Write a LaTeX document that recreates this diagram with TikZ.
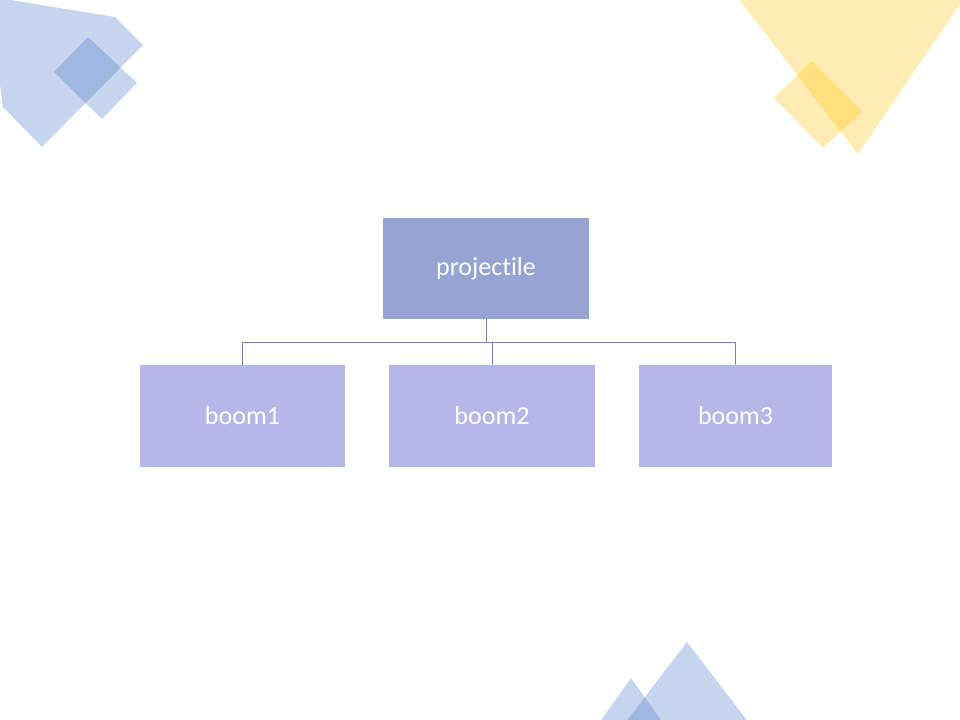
\documentclass[tikz,border=0pt]{standalone}
\usepackage{fontspec}
\setmainfont{Carlito}[Ligatures=NoCommon]
\definecolor{slideblue}{HTML}{4472C4}
\definecolor{slidegold}{HTML}{FFC000}
\definecolor{rootfill}{HTML}{95A4D3}
\definecolor{leaffill}{HTML}{B7B6E9}
\definecolor{linkcol}{HTML}{7385BF}

\begin{document}
\begin{tikzpicture}[x=0.75pt,y=-0.75pt]
                        \tikzstyle{bluepatch}=[fill=slideblue,fill opacity=0.3]
                        \tikzstyle{goldpatch}=[fill=slidegold,fill opacity=0.3]
                        \tikzstyle{box}=[inner sep=0pt,minimum height=76.5pt,text=white,font=\fontsize{19.5}{23}\selectfont]
                        \tikzstyle{rootbox}=[box,fill=rootfill,minimum width=154.5pt,minimum height=75.75pt]
                        \tikzstyle{leafbox}=[box,fill=leaffill,minimum width=153.75pt]
                        \tikzstyle{level 1}=[sibling distance=184.9pt,level distance=110.6pt]
                        \useasboundingbox (0,0) rectangle (960,720);
                        \clip (0,0) rectangle (960,720);
                        \fill[bluepatch] (-2,-2) -- (115,17) -- (143,45) -- (42,147) -- (3,107) -- (-2,70) -- cycle;
                        \fill[bluepatch] (88,37) -- (137,83) -- (102,119) -- (54,72) -- cycle;
                        \fill[goldpatch] (738,-2) -- (964,-2) -- (858,154) -- cycle;
                        \fill[goldpatch] (812,61) -- (862,112) -- (823,148) -- (774,98) -- cycle;
                        \fill[bluepatch] (687,642) -- (749,723) -- (625,723) -- cycle;
                        \fill[bluepatch] (631,678) -- (663,723) -- (599,723) -- cycle;
                        \node[rootbox] (proj) at (486,268.5) {projectile}
                            [edge from parent/.style={draw=linkcol,line width=0.75pt},
                             edge from parent path={(\tikzparentnode.south) -- ++(0,-17.25pt) -| (\tikzchildnode.north)}]
                            child[xshift=2.25pt] {node[leafbox] (boom1) {boom1}
                            }
                            child[xshift=4.5pt] {node[leafbox,minimum width=154.5pt] (boom2) {boom2}
                            }
                            child[xshift=2.25pt] {node[leafbox,minimum width=144.75pt] (boom3) {boom3}
                            };
                    \end{tikzpicture}
\end{document}
